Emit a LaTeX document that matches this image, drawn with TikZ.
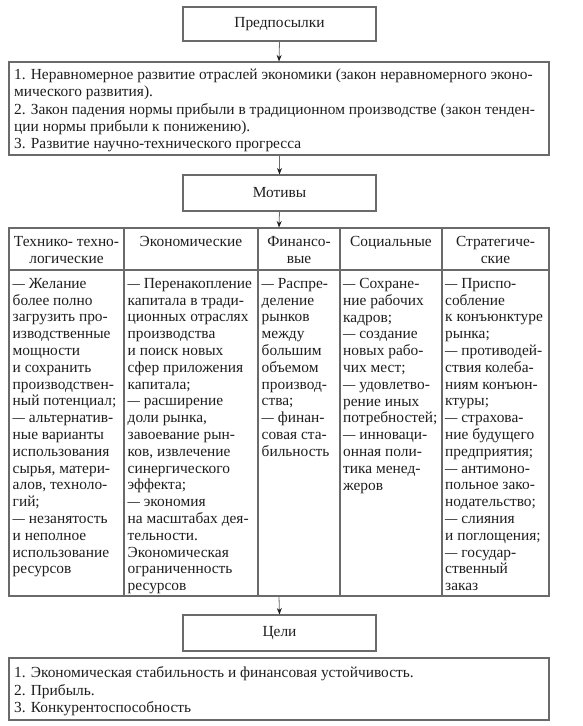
\documentclass[tikz,border=0pt]{standalone}
\usepackage{fontspec}
\setmainfont{Liberation Serif}
\usetikzlibrary{arrows.meta}
\definecolor{linec}{HTML}{6A6A6A}
\definecolor{textc}{HTML}{1E1E1E}
\newcommand\mydash{\scalebox{0.8}[1]{—}}
\begin{document}
\begin{tikzpicture}[x=1pt,y=-1pt,
  box/.style={draw=linec, line width=1.1pt, inner sep=0pt},
  lbl/.style={font=\fontsize{15.4}{16.8}\selectfont, text=textc, inner sep=0pt},
  wide/.style={lbl, font=\fontsize{15.4}{17.4}\selectfont, align=left, anchor=north west},
  cell/.style={lbl, align=left, anchor=north west},
  hcell/.style={lbl, align=center, anchor=north},
  arr/.style={draw=linec, line width=0.8pt, -{Stealth[length=6.5pt,width=5pt,color=textc]}}]
\useasboundingbox (0,0) rectangle (583,726);

% boxes
\node[box, lbl, minimum width=193pt, minimum height=34pt] (pre) at (279.5,24) {Предпосылки};
\node[box, minimum width=540pt, minimum height=93pt] (cond) at (279,108.5) {};
\node[box, lbl, minimum width=193pt, minimum height=36pt] (mot) at (279.5,193) {Мотивы};
\node[box, minimum width=540pt, minimum height=368pt] (tab) at (279,412) {};
\node[box, lbl, minimum width=193pt, minimum height=36pt] (goal) at (279.5,633) {Цели};
\node[box, minimum width=540pt, minimum height=62pt] (res) at (279,689) {};

% table grid
\draw[box] (tab.west |- 0,270) -- (tab.east |- 0,270);
\foreach \xx in {124,258,340,442} \draw[box] (\xx,228) -- (\xx,596);

% arrows
\draw[arr] (pre.south) -- (cond.north);
\draw[arr] (mot.north |- cond.south) -- (mot.north);
\draw[arr] (mot.south) -- (tab.north);
\draw[arr] (tab.south) -- (goal.north);

% wide box texts
\node[wide] (condtxt) at (14,68.5) {1. Неравномерное развитие отраслей экономики (закон неравномерного эконо-\\мического развития).\\2. Закон падения нормы прибыли в традиционном производстве (закон тенден-\\ции нормы прибыли к понижению).\\3. Развитие научно-технического прогресса};
\node[wide] (restxt) at (14,666.5) {1. Экономическая стабильность и финансовая устойчивость.\\2. Прибыль.\\3. Конкурентоспособность};

% headers
\node[hcell] (h1) at (66.5,236.5) {Технико- техно-\\логические};
\node[hcell] (h2) at (191,236.5) {Экономические};
\node[hcell] (h3) at (299,236.5) {Финансо-\\вые};
\node[hcell] (h4) at (391,236.5) {Социальные};
\node[hcell] (h5) at (495.5,236.5) {Стратегиче-\\ские};

% body cells
\node[cell] (c1) at (12.5,278) {\mydash{} Желание\\более полно\\загрузить про-\\изводственные\\мощности\\и сохранить\\производствен-\\ный потенциал;\\\mydash{} альтернатив-\\ные варианты\\использования\\сырья, матери-\\алов, техноло-\\гий;\\\mydash{} незанятость\\и неполное\\использование\\ресурсов};
\node[cell] (c2) at (127.5,278) {\mydash{} Перенакопление\\капитала в тради-\\ционных отраслях\\производства\\и поиск новых\\сфер приложения\\капитала;\\\mydash{} расширение\\доли рынка,\\завоевание рын-\\ков, извлечение\\синергического\\эффекта;\\\mydash{} экономия\\на масштабах дея-\\тельности.\\Экономическая\\ограниченность\\ресурсов};
\node[cell] (c3) at (261.5,278) {\mydash{} Распре-\\деление\\рынков\\между\\большим\\объемом\\производ-\\ства;\\\mydash{} финан-\\совая ста-\\бильность};
\node[cell] (c4) at (343,278) {\mydash{} Сохране-\\ние рабочих\\кадров;\\\mydash{} создание\\новых рабо-\\чих мест;\\\mydash{} удовлетво-\\рение иных\\потребностей;\\\mydash{} инноваци-\\онная поли-\\тика менед-\\жеров};
\node[cell] (c5) at (445,278) {\mydash{} Приспо-\\собление\\к конъюнктуре\\рынка;\\\mydash{} противодей-\\ствия колеба-\\ниям конъюн-\\ктуры;\\\mydash{} страхова-\\ние будущего\\предприятия;\\\mydash{} антимоно-\\польное зако-\\нодательство;\\\mydash{} слияния\\и поглощения;\\\mydash{} государ-\\ственный\\заказ};
\end{tikzpicture}
\end{document}
